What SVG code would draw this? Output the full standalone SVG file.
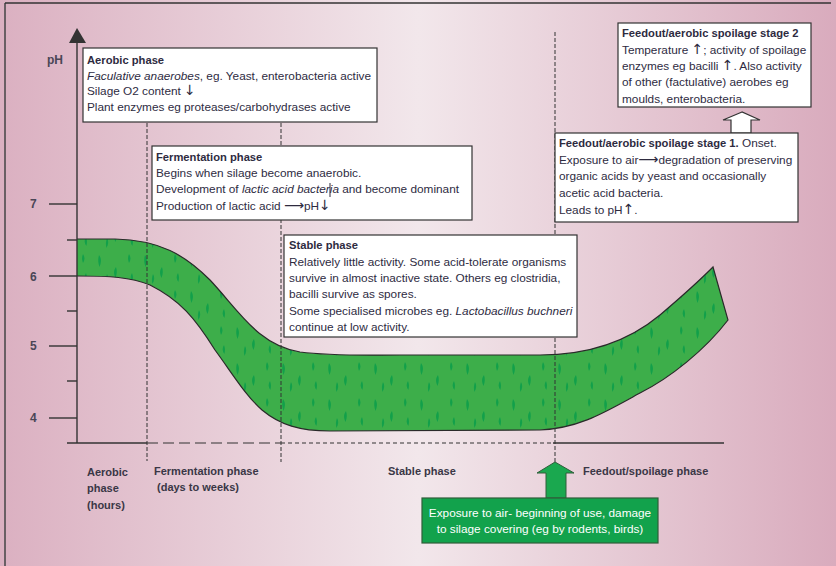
<svg xmlns="http://www.w3.org/2000/svg" width="836" height="566" viewBox="0 0 836 566">
  <defs>
    <linearGradient id="bg" x1="0" y1="0" x2="1" y2="0">
      <stop offset="0" stop-color="#dbb0c1"/>
      <stop offset="0.5" stop-color="#f2e7eb"/>
      <stop offset="1" stop-color="#d9abbd"/>
    </linearGradient>
    <!-- grass-like flecks inside the band -->
    <pattern id="streaks" width="46" height="36" patternUnits="userSpaceOnUse">
      <g fill="#12a04a">
        <path d="M7,3 c2.5,3 2.5,7 0.5,12 c-1.5,-4 -1.8,-8 -0.5,-12z"/>
        <path d="M24,15 c-2.5,3 -2.5,7 -0.5,11 c1.5,-4 1.8,-7 0.5,-11z"/>
        <path d="M37,2 c2,3 2,6 0,9 c-1.2,-3 -1.4,-6 0,-9z"/>
        <path d="M15,22 c1.8,3 1.6,6 -0.5,10 c-1,-3 -0.8,-7 0.5,-10z"/>
        <path d="M40,21 c-2,3 -1.8,6 0.3,9 c1,-3 1,-6 -0.3,-9z"/>
      </g>
    </pattern>
    <style>
      .box { fill: #ffffff; stroke: #333333; stroke-width: 1.2; }
      .t { font-family: "Liberation Sans", Arial, sans-serif; font-size: 11.8px; fill: #2e2b3f; }
      .b { font-weight: bold; font-size: 11.2px; }
      .i { font-style: italic; }
      .arr { font-family: "DejaVu Sans", sans-serif; font-size: 14px; }
      .lab { font-family: "Liberation Sans", Arial, sans-serif; font-size: 11px; font-weight: bold; fill: #3a3746; }
      .num { font-family: "Liberation Sans", Arial, sans-serif; font-size: 12px; font-weight: bold; fill: #4a4656; }
      .ax { stroke: #333333; stroke-width: 1.4; fill: none; }
      .vdash { stroke: #333333; stroke-width: 1; stroke-dasharray: 4 2; fill: none; }
    </style>
  </defs>

  <!-- background panel -->
  <rect x="0" y="0" width="836" height="566" fill="url(#bg)"/>
  <line x1="5" y1="3" x2="5" y2="566" stroke="#444" stroke-width="1.5"/>
  <line x1="5" y1="3" x2="831" y2="3" stroke="#333" stroke-width="1.5"/>

  <!-- pH band -->
  <g id="ph-band">
    <path d="M77,239 L115,239 C160,240 185,255 210,280 C240,312 258,345 300,352 C330,356 360,355 400,355 L540,355 C590,355 630,340 660,315 C680,298 700,280 713,267 L728,320 C705,350 670,378 640,393 C605,412 580,428 540,430 L330,431 C300,431 280,425 262,410 C245,395 232,373 215,350 C195,318 180,300 150,285 C130,277 110,276 77,276 Z" fill="#3dae4a"/>
    <path d="M77,239 L115,239 C160,240 185,255 210,280 C240,312 258,345 300,352 C330,356 360,355 400,355 L540,355 C590,355 630,340 660,315 C680,298 700,280 713,267 L728,320 C705,350 670,378 640,393 C605,412 580,428 540,430 L330,431 C300,431 280,425 262,410 C245,395 232,373 215,350 C195,318 180,300 150,285 C130,277 110,276 77,276 Z" fill="url(#streaks)"/>
    <path d="M77,239 L115,239 C160,240 185,255 210,280 C240,312 258,345 300,352 C330,356 360,355 400,355 L540,355 C590,355 630,340 660,315 C680,298 700,280 713,267 L728,320 C705,350 670,378 640,393 C605,412 580,428 540,430 L330,431 C300,431 280,425 262,410 C245,395 232,373 215,350 C195,318 180,300 150,285 C130,277 110,276 77,276" fill="none" stroke="#2a2a2a" stroke-width="1.2"/>
  </g>

  <!-- axes, ticks and phase dividers -->
  <g id="connectors">
    <line class="ax" x1="77" y1="42" x2="77" y2="443"/>
    <polygon points="77,28 69,43 86,43" fill="#333"/>
    <line class="ax" x1="49" y1="204" x2="77" y2="204"/>
    <line class="ax" x1="67" y1="240" x2="77" y2="240"/>
    <line class="ax" x1="49" y1="276" x2="77" y2="276"/>
    <line class="ax" x1="67" y1="311" x2="77" y2="311"/>
    <line class="ax" x1="49" y1="346" x2="77" y2="346"/>
    <line class="ax" x1="67" y1="381" x2="77" y2="381"/>
    <line class="ax" x1="49" y1="418" x2="77" y2="418"/>

    <line class="ax" x1="67" y1="443" x2="147" y2="443"/>
    <line x1="147" y1="443" x2="281" y2="443" stroke="#333" stroke-width="1.2" stroke-dasharray="11 5"/>
    <line x1="281" y1="443" x2="553" y2="443" stroke="#333" stroke-width="1.2" stroke-dasharray="4 3"/>
    <line class="ax" x1="553" y1="443" x2="724" y2="443"/>

    <line class="vdash" x1="147" y1="123" x2="147" y2="461"/>
    <line class="vdash" x1="281" y1="123" x2="281" y2="462"/>
    <line class="vdash" x1="555" y1="32" x2="555" y2="462"/>

    <!-- hollow arrow between spoilage stages -->
    <polygon points="742,112 723,120 731,120 731,133 751,133 751,120 760,120" fill="#ffffff" stroke="#333" stroke-width="1.2"/>
    <!-- green exposure arrow -->
    <polygon points="555,462 537,473 546,473 546,498 566,498 566,473 574,473" fill="#1aa84f" stroke="#2f5e3a" stroke-width="1"/>
  </g>

  <!-- axis labels -->
  <g id="axis-labels">
    <text class="num" x="47" y="64">pH</text>
    <text class="num" x="30" y="208">7</text>
    <text class="num" x="30" y="281">6</text>
    <text class="num" x="30" y="350">5</text>
    <text class="num" x="30" y="422">4</text>
  </g>

  <g id="aerobic-box">
    <rect class="box" x="83" y="48" width="294" height="74"/>
    <text class="t b" x="87" y="64">Aerobic phase</text>
    <text class="t" x="87" y="80"><tspan class="i">Faculative anaerobes</tspan>, eg. Yeast, enterobacteria active</text>
    <text class="t" x="87" y="95">Silage O2 content <tspan class="arr">↓</tspan></text>
    <text class="t" x="87" y="111">Plant enzymes eg proteases/carbohydrases active</text>
  </g>

  <g id="fermentation-box">
    <rect class="box" x="152" y="146" width="320" height="74"/>
    <text class="t b" x="156" y="161">Fermentation phase</text>
    <text class="t" x="156" y="177">Begins when silage become anaerobic.</text>
    <text class="t" x="156" y="193">Development of <tspan class="i">lactic acid bacteria</tspan> and become dominant</text>
    <line x1="330" y1="183" x2="330" y2="197" stroke="#2e2b3f" stroke-width="1"/>
    <text class="t" x="156" y="210">Production of lactic acid <tspan class="arr">⟶</tspan>pH<tspan class="arr">↓</tspan></text>
  </g>

  <g id="stable-box">
    <rect class="box" x="284" y="235" width="293" height="102"/>
    <text class="t b" x="289" y="249">Stable phase</text>
    <text class="t" x="289" y="266">Relatively little activity. Some acid-tolerate organisms</text>
    <text class="t" x="289" y="282">survive in almost inactive state. Others eg clostridia,</text>
    <text class="t" x="289" y="298">bacilli survive as spores.</text>
    <text class="t" x="289" y="315">Some specialised microbes eg. <tspan class="i">Lactobacillus buchneri</tspan></text>
    <text class="t" x="289" y="331">continue at low activity.</text>
  </g>

  <g id="spoilage-stage2-box">
    <rect class="box" x="618" y="23" width="193" height="84"/>
    <text class="t b" x="622" y="37">Feedout/aerobic spoilage stage 2</text>
    <text class="t" x="622" y="54">Temperature <tspan class="arr">↑</tspan>; activity of spoilage</text>
    <text class="t" x="622" y="70">enzymes eg bacilli <tspan class="arr">↑</tspan>. Also activity</text>
    <text class="t" x="622" y="86">of other (factulative) aerobes eg</text>
    <text class="t" x="622" y="103">moulds, enterobacteria.</text>
  </g>

  <g id="spoilage-stage1-box">
    <rect class="box" x="555" y="133" width="243" height="89"/>
    <text class="t" x="559" y="147"><tspan class="b">Feedout/aerobic spoilage stage 1.</tspan> Onset.</text>
    <text class="t" x="559" y="164">Exposure to air<tspan class="arr">⟶</tspan>degradation of preserving</text>
    <text class="t" x="559" y="180">organic acids by yeast and occasionally</text>
    <text class="t" x="559" y="197">acetic acid bacteria.</text>
    <text class="t" x="559" y="214">Leads to pH<tspan class="arr">↑</tspan>.</text>
  </g>

  <g id="exposure-box">
    <rect x="422" y="498" width="236" height="45" fill="#12a24c" stroke="#2f5e3a" stroke-width="1.2"/>
    <text class="t" x="540" y="517" text-anchor="middle" style="fill:#ffffff">Exposure to air- beginning of use, damage</text>
    <text class="t" x="540" y="533" text-anchor="middle" style="fill:#ffffff">to silage covering (eg by rodents, birds)</text>
  </g>

  <g id="phase-labels">
    <text class="lab" x="87" y="476">Aerobic</text>
    <text class="lab" x="87" y="492">phase</text>
    <text class="lab" x="87" y="509">(hours)</text>
    <text class="lab" x="154" y="475">Fermentation phase</text>
    <text class="lab" x="157" y="491">(days to weeks)</text>
    <text class="lab" x="388" y="475">Stable phase</text>
    <text class="lab" x="583" y="475">Feedout/spoilage phase</text>
  </g>
</svg>
